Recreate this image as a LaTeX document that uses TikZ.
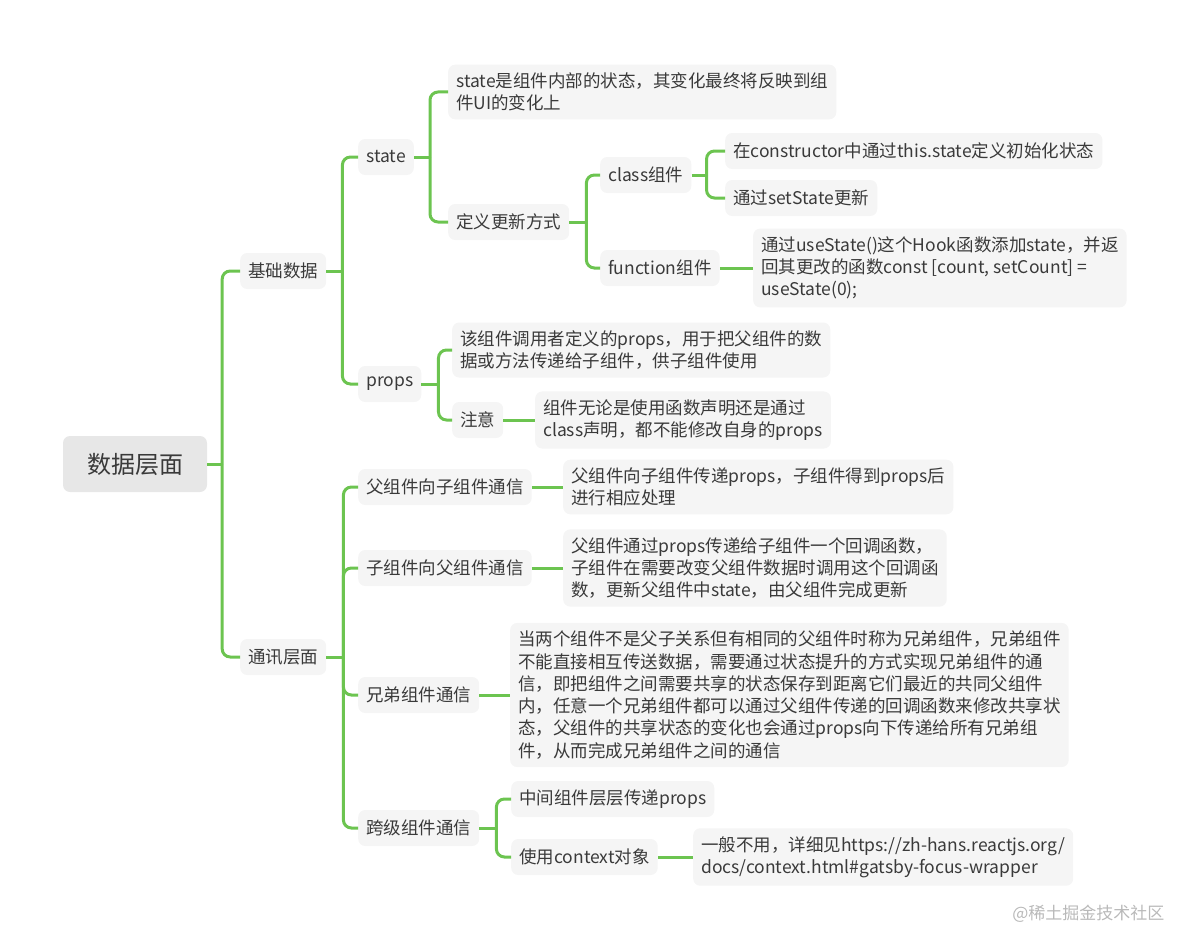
\documentclass[tikz,border=0pt]{standalone}
\usepackage{fontspec}
\setmainfont{Noto Sans CJK SC}
\usepackage{tikz}
\usetikzlibrary{positioning}
\definecolor{branch}{RGB}{108,196,80}
\definecolor{boxfill}{RGB}{245,245,245}
\definecolor{rootfill}{RGB}{231,231,231}
\definecolor{inktext}{RGB}{58,58,58}
\definecolor{marktext}{RGB}{185,185,185}

\tikzset{
  topic/.style={fill=boxfill, rounded corners=7pt, text=inktext, align=left, anchor=west,
    inner xsep=8pt, inner ysep=8pt, minimum height=36pt, font=\fontsize{17.5}{22.3}\selectfont},
  rootbox/.style={topic, fill=rootfill, anchor=center, minimum width=144pt, minimum height=56pt,
    font=\fontsize{24}{28}\selectfont},
  link/.style={branch, line width=3pt, rounded corners=8pt},
}

\begin{document}
\begin{tikzpicture}[x=1pt, y=-1pt]
  \useasboundingbox (0,0) rectangle (1192,950);

  % Root
  \node[rootbox] (root) at (135,464) {数据层面};

  % First level
  \node[topic] (basic) at (240,271) {基础数据};
  \node[topic] (comm) at (240,657) {通讯层面};

  % Basic data
  \node[topic] (state) at (358,157) {state};
  \node[topic] (props) at (358,384) {props};

  \node[topic] (stateDesc) at (448,92) {state是组件内部的状态，其变化最终将反映到组\\件UI的变化上};
  \node[topic] (stateWay) at (448,222) {定义更新方式};
  \node[topic] (classComp) at (600,175) {class组件};
  \node[topic] (funcComp) at (600,268) {function组件};
  \node[topic] (classInit) at (725,151) {在constructor中通过this.state定义初始化状态};
  \node[topic] (classSet) at (725,198) {通过setState更新};
  \node[topic] (funcHook) at (753,268) {通过useState()这个Hook函数添加state，并返\\回其更改的函数const [count, setCount] =\\useState(0);};

  \node[topic] (propsDesc) at (452,350) {该组件调用者定义的props，用于把父组件的数\\据或方法传递给子组件，供子组件使用};
  \node[topic] (propsNote) at (452,420) {注意};
  \node[topic] (propsNoteText) at (535,420) {组件无论是使用函数声明还是通过\\class声明，都不能修改自身的props};

  % Communication
  \node[topic] (parentChild) at (358,487) {父组件向子组件通信};
  \node[topic] (parentChildText) at (563,487) {父组件向子组件传递props，子组件得到props后\\进行相应处理};
  \node[topic] (childParent) at (358,568) {子组件向父组件通信};
  \node[topic] (childParentText) at (563,568) {父组件通过props传递给子组件一个回调函数，\\子组件在需要改变父组件数据时调用这个回调函\\数，更新父组件中state，由父组件完成更新};
  \node[topic] (sibling) at (358,695) {兄弟组件通信};
  \node[topic] (siblingText) at (510,695) {当两个组件不是父子关系但有相同的父组件时称为兄弟组件，兄弟组件\\不能直接相互传送数据，需要通过状态提升的方式实现兄弟组件的通\\信，即把组件之间需要共享的状态保存到距离它们最近的共同父组件\\内，任意一个兄弟组件都可以通过父组件传递的回调函数来修改共享状\\态，父组件的共享状态的变化也会通过props向下传递给所有兄弟组\\件，从而完成兄弟组件之间的通信};
  \node[topic] (cross) at (358,828) {跨级组件通信};
  \node[topic] (crossProps) at (511,799) {中间组件层层传递props};
  \node[topic] (crossCtx) at (511,857) {使用context对象};
  \node[topic] (crossCtxText) at (693,857) {一般不用，详细见https://zh-hans.reactjs.org/\\docs/context.html\#gatsby-focus-wrapper};

  % Forks
  \coordinate[right=15pt of root] (rootFork);
  \coordinate[right=16pt of basic] (basicFork);
  \coordinate[right=16pt of state] (stateFork);
  \coordinate[right=17pt of stateWay] (wayFork);
  \coordinate[right=15pt of classComp] (classFork);
  \coordinate[right=17pt of props] (propsFork);
  \coordinate[right=17pt of comm] (commFork);
  \coordinate[right=17pt of cross] (crossFork);

  % Branches
  \draw[link] (root.east) -- (rootFork);
  \foreach \c in {basic, comm} \draw[link] (rootFork) |- (\c.west);

  \draw[link] (basic.east) -- (basicFork);
  \foreach \c in {state, props} \draw[link] (basicFork) |- (\c.west);

  \draw[link] (state.east) -- (stateFork);
  \foreach \c in {stateDesc, stateWay} \draw[link] (stateFork) |- (\c.west);

  \draw[link] (stateWay.east) -- (wayFork);
  \foreach \c in {classComp, funcComp} \draw[link] (wayFork) |- (\c.west);

  \draw[link] (classComp.east) -- (classFork);
  \foreach \c in {classInit, classSet} \draw[link] (classFork) |- (\c.west);

  \draw[link] (funcComp.east) -- (funcHook.west);

  \draw[link] (props.east) -- (propsFork);
  \foreach \c in {propsDesc, propsNote} \draw[link] (propsFork) |- (\c.west);
  \draw[link] (propsNote.east) -- (propsNoteText.west);

  \draw[link] (comm.east) -- (commFork);
  \foreach \c in {parentChild, childParent, sibling, cross} \draw[link] (commFork) |- (\c.west);
  \draw[link] (parentChild.east) -- (parentChildText.west);
  \draw[link] (childParent.east) -- (childParentText.west);
  \draw[link] (sibling.east) -- (siblingText.west);

  \draw[link] (cross.east) -- (crossFork);
  \foreach \c in {crossProps, crossCtx} \draw[link] (crossFork) |- (\c.west);
  \draw[link] (crossCtx.east) -- (crossCtxText.west);

  % Watermark
  \node[anchor=east, text=marktext, font=\fontsize{17}{20}\selectfont] (mark) at (1168,914) {@稀土掘金技术社区};
\end{tikzpicture}
\end{document}
